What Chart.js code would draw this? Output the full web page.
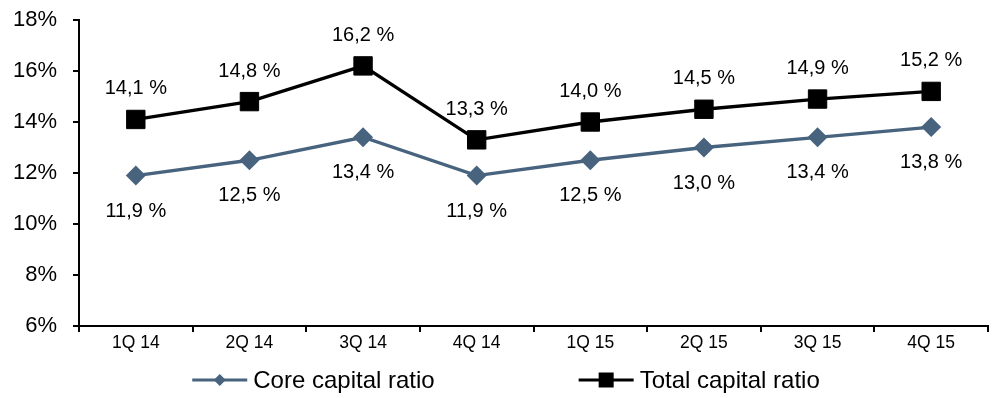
<!DOCTYPE html>
<html><head><meta charset="utf-8">
<style>
html,body{margin:0;padding:0;background:#fff;overflow:hidden;width:992px;height:398px;}
#wrap{position:absolute;left:10px;top:0;width:992px;height:398px;}
</style>
<script src="https://cdn.jsdelivr.net/npm/chart.js@4"></script>
</head><body><div id="wrap"><canvas id="c" width="992" height="398"></canvas></div>
<script>
const categories = ['1Q 14','2Q 14','3Q 14','4Q 14','1Q 15','2Q 15','3Q 15','4Q 15'];
const coreRatio  = [11.9, 12.5, 13.4, 11.9, 12.5, 13.0, 13.4, 13.8];
const totalRatio = [14.1, 14.8, 16.2, 13.3, 14.0, 14.5, 14.9, 15.2];
const seriesNames = ['Core capital ratio', 'Total capital ratio'];
const yMin = 6, yMax = 18, yStep = 2;

const FONT = '"Liberation Sans", Arial, sans-serif';
const CORE_COLOR = '#47637e';
const TOTAL_COLOR = '#000000';

function fmt(v){ return v.toFixed(1).replace('.', ',') + ' %'; }

const dataLabels = {
  id: 'dataLabels',
  afterDatasetsDraw(chart){
    const ctx = chart.ctx;
    ctx.save();
    ctx.font = '20px ' + FONT;
    ctx.fillStyle = '#000';
    ctx.textAlign = 'center';
    ctx.textBaseline = 'alphabetic';
    chart.data.datasets.forEach((ds, di) => {
      const meta = chart.getDatasetMeta(di);
      meta.data.forEach((pt, i) => {
        const above = ds.labelPos === 'above';
        const y = above ? pt.y - 25 : pt.y + 41;
        ctx.fillText(fmt(ds.data[i]), pt.x, y);
      });
    });
    ctx.restore();
  }
};

const customLegend = {
  id: 'customLegend',
  afterDraw(chart){
    const ctx = chart.ctx;
    ctx.save();
    ctx.font = '24px ' + FONT;
    const lineW = 55, gapText = 6, gapItems = 144;
    const items = chart.data.datasets.map(ds => ({ds, tw: ctx.measureText(ds.label).width}));
    let total = 0;
    items.forEach((it, i) => { total += lineW + gapText + it.tw + (i ? gapItems : 0); });
    let x = chart.width / 2 - total / 2;
    const y = 380;
    items.forEach((it, i) => {
      if (i) x += gapItems;
      const ds = it.ds;
      ctx.strokeStyle = ds.borderColor;
      ctx.lineWidth = 3;
      ctx.beginPath(); ctx.moveTo(x, y); ctx.lineTo(x + lineW, y); ctx.stroke();
      const cx = x + lineW / 2;
      ctx.fillStyle = ds.borderColor;
      ctx.beginPath();
      if (ds.pointStyle === 'rectRot') {
        const r = 6;
        ctx.moveTo(cx, y - r); ctx.lineTo(cx + r, y); ctx.lineTo(cx, y + r); ctx.lineTo(cx - r, y); ctx.closePath();
      } else {
        const s = 7.5;
        ctx.rect(cx - s, y - s, 2 * s, 2 * s);
      }
      ctx.fill();
      x += lineW + gapText;
      ctx.fillStyle = '#000';
      ctx.textAlign = 'left';
      ctx.textBaseline = 'middle';
      ctx.fillText(ds.label, x, y + 1);
      x += it.tw;
    });
    ctx.restore();
  }
};

Chart.defaults.font.family = FONT;
Chart.defaults.color = '#000';

new Chart(document.getElementById('c'), {
  type: 'line',
  data: {
    labels: categories,
    datasets: [
      {
        label: seriesNames[0], data: coreRatio, labelPos: 'below',
        borderColor: CORE_COLOR, backgroundColor: CORE_COLOR, borderWidth: 3.3,
        pointStyle: 'rectRot', pointRadius: 10, pointBorderWidth: 0,
        pointBackgroundColor: CORE_COLOR, tension: 0
      },
      {
        label: seriesNames[1], data: totalRatio, labelPos: 'above',
        borderColor: TOTAL_COLOR, backgroundColor: TOTAL_COLOR, borderWidth: 3.3,
        pointStyle: 'rect', pointRadius: 13, pointBorderWidth: 1,
        pointBackgroundColor: TOTAL_COLOR, pointBorderColor: TOTAL_COLOR, tension: 0
      }
    ]
  },
  options: {
    responsive: false,
    animation: false,
    devicePixelRatio: 1,
    layout: { padding: { top: 20, left: 0, right: 0, bottom: 42 } },
    plugins: { legend: { display: false }, tooltip: { enabled: false } },
    scales: {
      x: {
        offset: true,
        afterFit(s){ s.height = 30; s.paddingLeft = 0; s.paddingRight = 0; },
        grid: { offset: true, drawOnChartArea: false, drawTicks: true, tickLength: 6, color: '#000', lineWidth: 2 },
        border: { color: '#000', width: 2 },
        ticks: { font: { size: 17.5 }, color: '#000', padding: 1, maxRotation: 0 }
      },
      y: {
        min: yMin, max: yMax,
        afterFit(s){ s.width = 69; s.paddingTop = 0; s.paddingBottom = 0; },
        grid: { drawOnChartArea: false, drawTicks: true, tickLength: 6, color: '#000', lineWidth: 2 },
        border: { color: '#000', width: 2 },
        ticks: { stepSize: yStep, font: { size: 22 }, color: '#000', padding: 16, callback: v => v + '%' }
      }
    }
  },
  plugins: [dataLabels, customLegend]
});
</script>
</body></html>
